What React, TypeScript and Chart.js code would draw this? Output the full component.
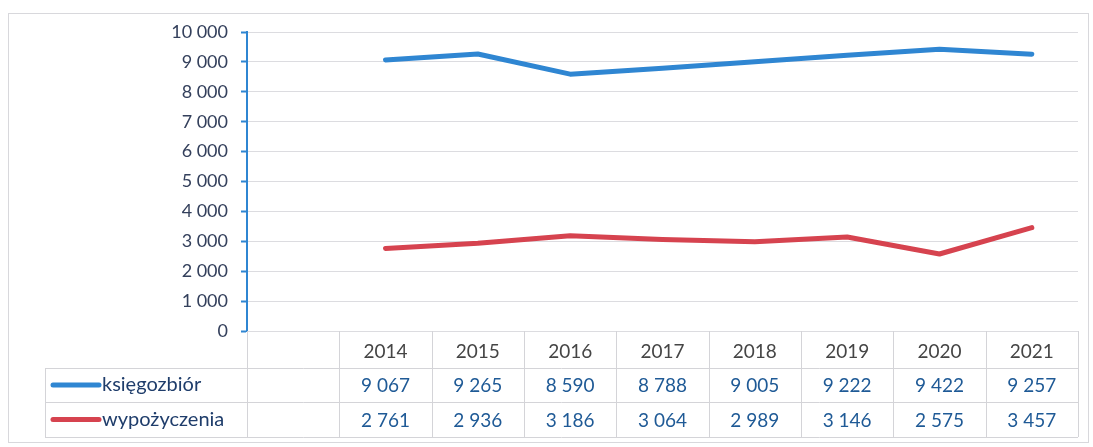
import React, { useEffect, useRef } from "react";
import { Chart, registerables } from "chart.js";

Chart.register(...registerables);

const years = ["2014", "2015", "2016", "2017", "2018", "2019", "2020", "2021"];
const ksiegozbior = [9067, 9265, 8590, 8788, 9005, 9222, 9422, 9257];
const wypozyczenia = [2761, 2936, 3186, 3064, 2989, 3146, 2575, 3457];
const seriesNames = ["księgozbiór", "wypożyczenia"];
const seriesColors = ["#2f86d2", "#d6434f"];

const FONT = "Lato, 'Open Sans', sans-serif";

function fmt(v: number): string {
  return String(v).replace(/\B(?=(\d{3})+(?!\d))/g, " ");
}

const tablePlugin = {
  id: "dataTable",
  afterDraw(chart: any) {
    const ctx = chart.ctx as CanvasRenderingContext2D;
    const xs = chart.scales.x;
    const area = chart.chartArea;
    const n = chart.data.labels.length;
    const colW = xs.getPixelForValue(1) - xs.getPixelForValue(0);
    const top = area.bottom;
    const r1 = top + 37;
    const r2 = r1 + 34;
    const r3 = r2 + 35;
    const legendLeft = 45;
    ctx.save();
    ctx.strokeStyle = "#d4d4d8";
    ctx.lineWidth = 1;
    for (let i = 0; i <= n; i++) {
      const xp = Math.round(xs.getPixelForValue(0) - colW / 2 + i * colW) + 0.5;
      ctx.beginPath();
      ctx.moveTo(xp, top);
      ctx.lineTo(xp, r3);
      ctx.stroke();
    }
    ctx.beginPath();
    ctx.moveTo(legendLeft + 0.5, r1);
    ctx.lineTo(legendLeft + 0.5, r3);
    ctx.stroke();
    [r1, r2, r3].forEach((y) => {
      ctx.beginPath();
      ctx.moveTo(legendLeft, Math.round(y) + 0.5);
      ctx.lineTo(area.right, Math.round(y) + 0.5);
      ctx.stroke();
    });
    ctx.textAlign = "center";
    ctx.textBaseline = "middle";
    ctx.font = `19px ${FONT}`;
    ctx.fillStyle = "#454545";
    const labels = chart.data.labels as string[];
    labels.forEach((l, i) => {
      if (l) ctx.fillText(l, xs.getPixelForValue(i), (top + r1) / 2 + 2);
    });
    const rows = [
      { y: (r1 + r2) / 2, ds: chart.data.datasets[0] },
      { y: (r2 + r3) / 2, ds: chart.data.datasets[1] },
    ];
    rows.forEach((r, k) => {
      ctx.fillStyle = "#1f5a96";
      ctx.textAlign = "center";
      ctx.font = `19px ${FONT}`;
      (r.ds.data as (number | null)[]).forEach((v, i) => {
        if (v != null) ctx.fillText(fmt(v), xs.getPixelForValue(i), r.y + 1);
      });
      ctx.strokeStyle = seriesColors[k];
      ctx.lineWidth = 5;
      ctx.lineCap = "round";
      ctx.beginPath();
      ctx.moveTo(53, r.y);
      ctx.lineTo(99, r.y);
      ctx.stroke();
      ctx.fillStyle = "#1f3d6b";
      ctx.textAlign = "left";
      ctx.font = `20px ${FONT}`;
      ctx.fillText(r.ds.label, 102, r.y);
      ctx.strokeStyle = "#d4d4d8";
      ctx.lineWidth = 1;
    });
    ctx.restore();
  },
};

const framePlugin = {
  id: "frame",
  beforeDraw(chart: any) {
    const ctx = chart.ctx as CanvasRenderingContext2D;
    ctx.save();
    ctx.fillStyle = "#ffffff";
    ctx.fillRect(0, 0, chart.width, chart.height);
    ctx.strokeStyle = "#d8d8dc";
    ctx.lineWidth = 1;
    ctx.strokeRect(8.5, 13.5, 1080, 429);
    ctx.restore();
  },
};

export default function App() {
  const ref = useRef<HTMLCanvasElement | null>(null);
  useEffect(() => {
    if (!ref.current) return;
    const chart = new Chart(ref.current, {
      type: "line",
      data: {
        labels: ["", ...years],
        datasets: [
          {
            label: seriesNames[0],
            data: [null, ...ksiegozbior],
            borderColor: seriesColors[0],
            backgroundColor: seriesColors[0],
            borderWidth: 5,
            pointRadius: 0,
            tension: 0,
            borderCapStyle: "round",
            borderJoinStyle: "round",
          },
          {
            label: seriesNames[1],
            data: [null, ...wypozyczenia],
            borderColor: seriesColors[1],
            backgroundColor: seriesColors[1],
            borderWidth: 5,
            pointRadius: 0,
            tension: 0,
            borderCapStyle: "round",
            borderJoinStyle: "round",
          },
        ],
      },
      options: {
        animation: false,
        responsive: false,
        devicePixelRatio: 1,
        layout: { padding: { left: 0, right: 15, top: 32, bottom: 0 } },
        plugins: {
          legend: { display: false },
          tooltip: { enabled: false },
          title: { display: false },
        },
        scales: {
          x: {
            type: "category",
            offset: true,
            grid: { display: false, drawTicks: false },
            border: { display: false },
            ticks: { display: false },
            afterFit: (s: any) => {
              s.height = 116;
            },
          },
          y: {
            min: 0,
            max: 10000,
            ticks: {
              stepSize: 1000,
              color: "#34405c",
              font: { family: FONT, size: 18 },
              padding: 13,
              callback: (v: any) => fmt(Number(v)),
            },
            grid: {
              color: "#dcdce0",
              lineWidth: 1,
              tickColor: "#2f86d2",
              tickLength: 6,
              tickWidth: 2,
            },
            border: { color: "#2f86d2", width: 2 },
            afterFit: (s: any) => {
              s.width = 247;
            },
          },
        },
      },
      plugins: [framePlugin, tablePlugin],
    });
    return () => chart.destroy();
  }, []);
  return (
    <div style={{ position: "absolute", left: 0, top: 0, width: 1093, height: 447, background: "#fff" }}>
      <canvas ref={ref} width={1093} height={447} style={{ width: 1093, height: 447, display: "block" }} />
    </div>
  );
}
